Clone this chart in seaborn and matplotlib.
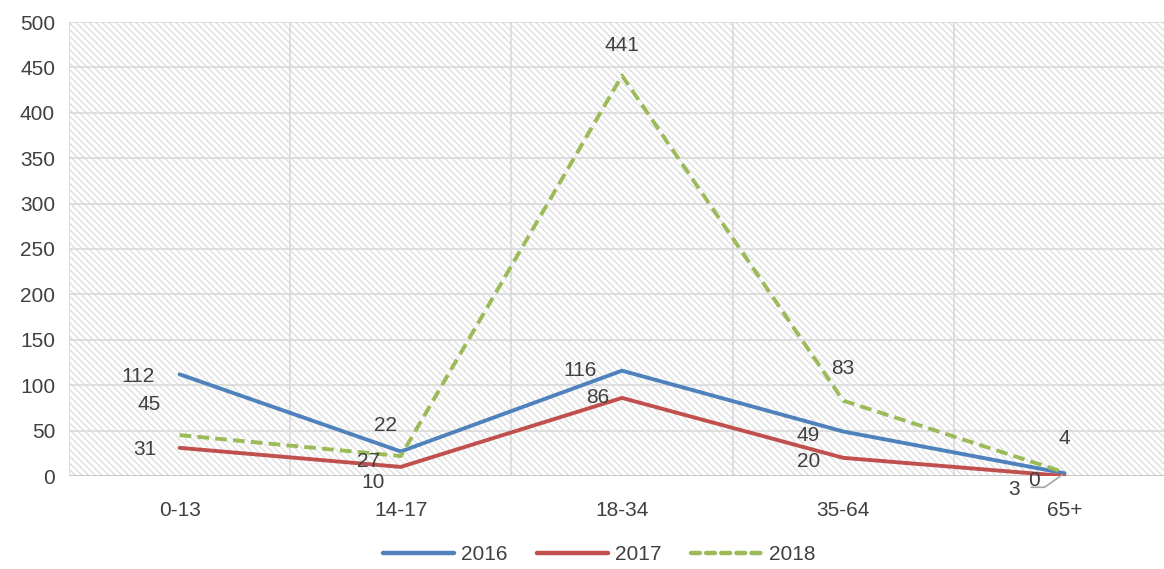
import numpy as np
import pandas as pd
import matplotlib.pyplot as plt
import seaborn as sns
from matplotlib.patches import Rectangle

# data
age_groups = ["0-13", "14-17", "18-34", "35-64", "65+"]
years = ["2016", "2017", "2018"]
counts_2016 = [112, 27, 116, 49, 3]
counts_2017 = [31, 10, 86, 20, 0]
counts_2018 = [45, 22, 441, 83, 4]
y_ticks = [0, 50, 100, 150, 200, 250, 300, 350, 400, 450, 500]

# styling
COLORS = {"2016": "#4f81bd", "2017": "#c0504d", "2018": "#9bbb59"}
DASHES = {"2016": "", "2017": "", "2018": (3, 1.6)}
TEXT = "#404040"
GRID = "#d9d9d9"
FS = 15

# label offsets in pixels (dx, dy) per year, per category
LABEL_OFFSETS = {
    "2016": [(-42, -2), (-32, -10), (-42, 0), (-35, -4), (-50, -16)],
    "2017": [(-35, -2), (-28, -16), (-24, 0), (-35, -4), (-30, -4)],
    "2018": [(-30, 31), (-15, 31), (0, 30), (0, 32), (0, 34)],
}

sns.set_theme(style="white")
plt.rcParams["font.family"] = ["Liberation Sans", "DejaVu Sans"]
plt.rcParams["hatch.linewidth"] = 1.0

df = pd.DataFrame({
    "age": age_groups * 3,
    "year": np.repeat(years, len(age_groups)),
    "count": counts_2016 + counts_2017 + counts_2018,
})

fig = plt.figure(figsize=(11.64, 5.69), dpi=100)
ax = fig.add_axes([69 / 1164, 1 - 476 / 569, 1 - 69 / 1164, 454 / 569])

# hatched plot area
ax.add_patch(Rectangle((0, 0), 1, 1, transform=ax.transAxes, fill=False,
                       hatch="\\\\\\\\\\", edgecolor="#dedede", linewidth=0, zorder=0))

sns.lineplot(data=df, x="age", y="count", hue="year", style="year",
             palette=COLORS, dashes=DASHES, linewidth=2.8, sort=False,
             legend=False, ax=ax, zorder=3)

ax.set_xlim(-0.5, 4.45)
ax.set_ylim(0, 500)
ax.set_yticks(y_ticks)
ax.set_xticks(range(len(age_groups)))
ax.set_xticklabels(age_groups)
ax.set_xlabel("")
ax.set_ylabel("")

# gridlines between categories, like the original
for xb in np.arange(-0.5, 4.6, 1.0):
    ax.axvline(xb, color=GRID, lw=1.2, zorder=1)
for yv in y_ticks[1:]:
    ax.axhline(yv, color=GRID, lw=1.2, zorder=1)
ax.axhline(0, color="#bfbfbf", lw=1.2, zorder=2)

for s in ax.spines.values():
    s.set_visible(False)
ax.tick_params(axis="both", length=0, labelsize=FS, colors=TEXT)
ax.tick_params(axis="x", pad=18)
ax.tick_params(axis="y", pad=10)

series = {"2016": counts_2016, "2017": counts_2017, "2018": counts_2018}
for yr, vals in series.items():
    for i, v in enumerate(vals):
        dx, dy = LABEL_OFFSETS[yr][i]
        ax.annotate(str(v), (i, v), xytext=(dx, dy), textcoords="offset pixels",
                    ha="center", va="center", fontsize=FS, color=TEXT, zorder=5)

# leader line for the "3" label at 65+
ax.annotate("", xy=(4, 3), xytext=(-36, -14), textcoords="offset pixels",
            arrowprops=dict(arrowstyle="-", color="#a6a6a6", lw=1.2,
                            connectionstyle="angle,angleA=0,angleB=35,rad=0"),
            zorder=4)

handles = [plt.Line2D([], [], color=COLORS[y], lw=3.2,
                      linestyle=(0, (2, 1.4)) if y == "2018" else "-",
                      solid_capstyle="round", dash_capstyle="round") for y in years]
fig.legend(handles, years, loc="lower center", bbox_to_anchor=(0.515, -0.024), ncol=3,
           frameon=False, fontsize=FS, handlelength=3.4, columnspacing=1.4,
           handletextpad=0.35, labelcolor=TEXT)

fig.savefig("out.png", dpi=100)
